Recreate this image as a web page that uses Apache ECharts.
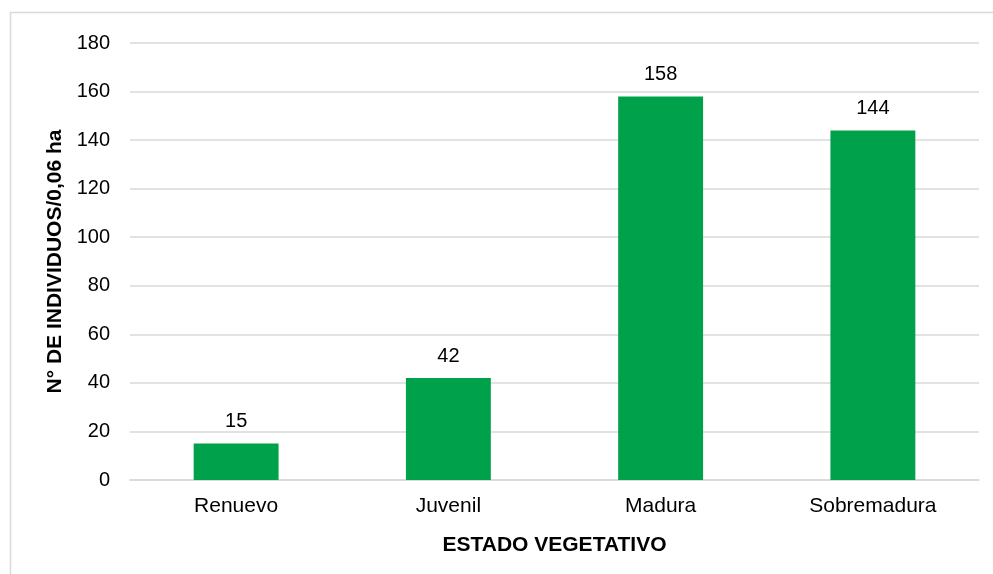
<!DOCTYPE html>
<html>
<head>
<meta charset="utf-8">
<script src="https://cdn.jsdelivr.net/npm/echarts@6/dist/echarts.min.js"></script>
<style>
  html, body { margin: 0; padding: 0; background: #fff; }
  #chart { width: 993px; height: 574px; }
</style>
</head>
<body>
<div id="chart"></div>
<script>
const categories = ['Renuevo', 'Juvenil', 'Madura', 'Sobremadura'];
const values = [15, 42, 158, 144];

const chart = echarts.init(document.getElementById('chart'));
const font = 'Liberation Sans, Arial, sans-serif';

chart.setOption({
  animation: false,
  graphic: [{
    type: 'rect',
    shape: { x: 10.5, y: 12.5, width: 1000, height: 600 },
    style: { fill: 'none', stroke: '#d9d9d9', lineWidth: 1.5 },
    silent: true
  }],
  grid: { left: 130, right: 14, top: 43, bottom: 94 },
  xAxis: {
    type: 'category',
    data: categories,
    name: 'ESTADO VEGETATIVO',
    nameLocation: 'middle',
    nameGap: 55,
    nameTextStyle: { fontFamily: font, fontSize: 21, fontWeight: 'bold', color: '#000' },
    axisLine: { lineStyle: { color: '#d9d9d9', width: 1.5 } },
    axisTick: { show: false },
    axisLabel: { fontFamily: font, fontSize: 21, color: '#000', margin: 16 }
  },
  yAxis: {
    type: 'value',
    min: 0,
    max: 180,
    interval: 20,
    name: 'N° DE INDIVIDUOS/0,06 ha',
    nameLocation: 'middle',
    nameGap: 63,
    nameTextStyle: { fontFamily: font, fontSize: 21, fontWeight: 'bold', color: '#000' },
    axisLine: { show: false },
    axisTick: { show: false },
    axisLabel: { fontFamily: font, fontSize: 20, color: '#000', margin: 20 },
    splitLine: { lineStyle: { color: '#d9d9d9', width: 1.5 } }
  },
  series: [{
    type: 'bar',
    data: values,
    barWidth: '40%',
    itemStyle: { color: '#00a14b' },
    label: {
      show: true,
      position: 'top',
      distance: 12,
      fontFamily: font,
      fontSize: 20,
      color: '#000'
    }
  }]
});
</script>
</body>
</html>
